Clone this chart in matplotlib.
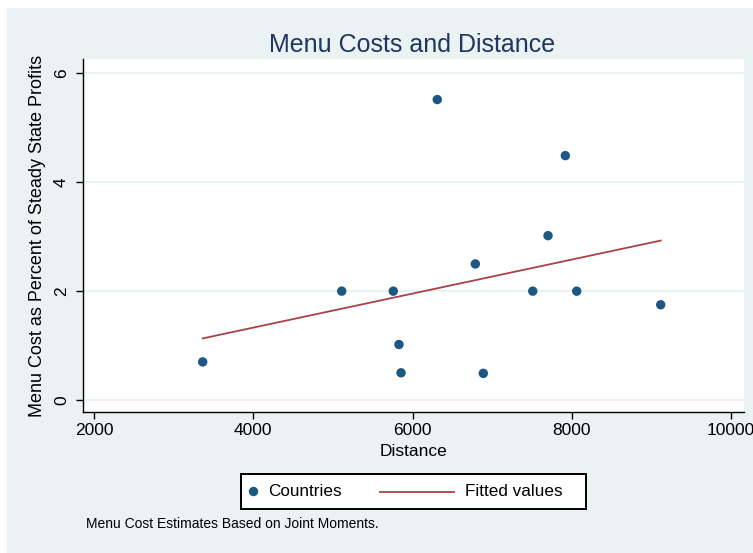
import numpy as np
import matplotlib
matplotlib.use("Agg")
import matplotlib.pyplot as plt
from matplotlib.patches import Rectangle

plt.rcParams['font.family'] = ['Liberation Sans', 'DejaVu Sans']

# ── Data: distance vs. estimated menu cost (% of steady state profits) ──
distance = [3365, 5111, 5759, 5830, 5856, 6311, 6789, 6889, 7510, 7702, 7919, 8062, 9117]
menu_cost = [0.70, 2.00, 2.00, 1.02, 0.50, 5.52, 2.50, 0.49, 2.00, 3.02, 4.49, 2.00, 1.75]

x_ticks = [2000, 4000, 6000, 8000, 10000]
y_ticks = [0, 2, 4, 6]

BG = '#eaf2f3'
NAVY = '#1f5783'
MAROON = '#a8434a'
TITLE_C = '#20365f'

# OLS fit for the "Fitted values" line
x = np.array(distance, dtype=float)
y = np.array(menu_cost, dtype=float)
slope, intercept = np.polyfit(x, y, 1)
x_fit = np.sort(x)
y_fit = intercept + slope * x_fit

W, H = 753, 553
fig = plt.figure(figsize=(W / 100, H / 100), dpi=100, facecolor='white')
fig.patches.append(Rectangle((7 / W, 0), 1 - 7 / W, 1 - 8 / H,
                             transform=fig.transFigure, facecolor=BG,
                             edgecolor='none', zorder=-10))

ax = fig.add_axes([83 / W, 1 - 412 / H, (744 - 83) / W, (412 - 59) / H])
ax.set_facecolor('white')

ax.scatter(x, y, s=46, color=NAVY, edgecolors='none', zorder=3)
ax.plot(x_fit, y_fit, color=MAROON, lw=1.3, zorder=2)

ax.set_xlim(1862, 10163)
ax.set_ylim(-0.22, 6.265)
ax.set_xticks(x_ticks)
ax.set_yticks(y_ticks)
ax.set_xticklabels([str(v) for v in x_ticks], fontsize=12.5)
ax.set_yticklabels([str(v) for v in y_ticks], fontsize=12.5, rotation=90, va='center')
ax.tick_params(axis='x', length=5, width=1, color='black', pad=3)
ax.tick_params(axis='y', length=5, width=1, color='black', pad=5)

for v in y_ticks:
    ax.axhline(v, color=BG, lw=1.5, zorder=0)

for side in ['top', 'right']:
    ax.spines[side].set_visible(False)
for side in ['left', 'bottom']:
    ax.spines[side].set_linewidth(1.0)

ax.set_xlabel('Distance', fontsize=12.5, labelpad=4)
ax.set_ylabel('Menu Cost as Percent of Steady State Profits', fontsize=13, labelpad=6)

fig.text(412 / W, 1 - 45 / H, 'Menu Costs and Distance', fontsize=18,
         color=TITLE_C, ha='center', va='center')

# legend box drawn in its own small axes (pixel coordinates)
lg = fig.add_axes([241 / W, 1 - 509 / H, 345 / W, 35 / H])
lg.set_xlim(0, 345)
lg.set_ylim(0, 35)
lg.set_xticks([])
lg.set_yticks([])
lg.set_facecolor('white')
for s in lg.spines.values():
    s.set_linewidth(1.4)
    s.set_color('black')
lg.scatter([12.5], [17.5], s=46, color=NAVY, edgecolors='none')
lg.text(27, 17.5, 'Countries', fontsize=12.3, va='center', ha='left')
lg.plot([139, 212.5], [17.5, 17.5], color=MAROON, lw=1.3)
lg.text(224, 17.5, 'Fitted values', fontsize=12.3, va='center', ha='left')

fig.text(86 / W, 1 - 524 / H, 'Menu Cost Estimates Based on Joint Moments.',
         fontsize=10, ha='left', va='center')

fig.savefig('out.png', dpi=100, facecolor=fig.get_facecolor())
